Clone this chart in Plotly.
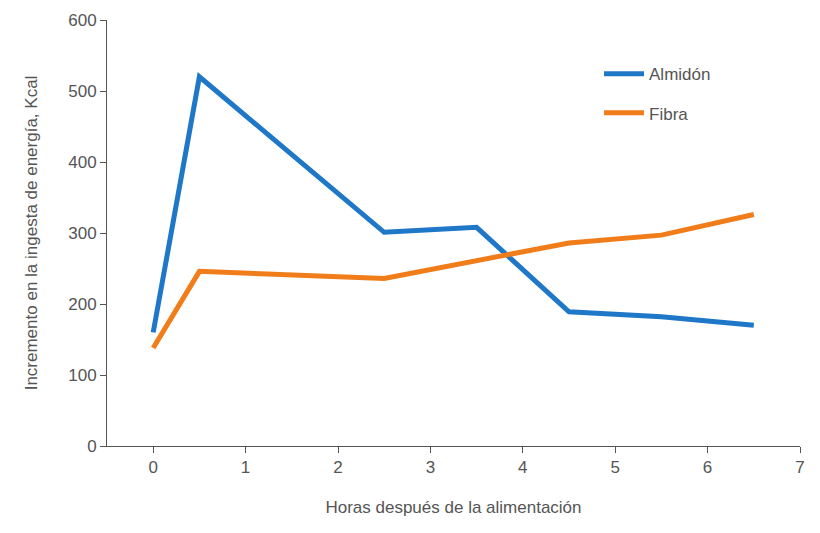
import plotly.graph_objects as go

horas = [0, 0.5, 2.5, 3.5, 4.5, 5.5, 6.5]
almidon = [160, 520, 301, 308, 189, 182, 170]
fibra = [138, 246, 236, 261, 286, 297, 326]

fig = go.Figure()
fig.add_trace(go.Scatter(x=horas, y=almidon, mode="lines", name="Almidón", legendgroup="a",
                         line=dict(color="#1f77c8", width=5)))
fig.add_trace(go.Scatter(x=horas, y=fibra, mode="lines", name="Fibra", legendgroup="b",
                         line=dict(color="#f07c1a", width=5)))
ax = dict(showgrid=False, zeroline=False, showline=True, linecolor="#555", linewidth=1,
          ticks="outside", ticklen=6, tickcolor="#555", automargin=False,
          tickfont=dict(size=17, color="#555"))
fig.update_layout(
    width=820, height=533, plot_bgcolor="white", paper_bgcolor="white",
    font=dict(family="Liberation Sans, Arial", color="#555"),
    margin=dict(l=99, r=28, t=12, b=95),
    xaxis=dict(**ax, range=[-0.5, 7], dtick=1,
               title=dict(text="Horas después de la alimentación", font=dict(size=17), standoff=24)),
    yaxis=dict(**ax, range=[0, 600], dtick=100,
               title=dict(text="Incremento en la ingesta de energía, Kcal", font=dict(size=17), standoff=26)),
    legend=dict(x=0.71, y=0.915, xanchor="left", yanchor="top", font=dict(size=17, color="#555"),
                itemwidth=40, tracegroupgap=14),
)
fig.write_html("out.html")
